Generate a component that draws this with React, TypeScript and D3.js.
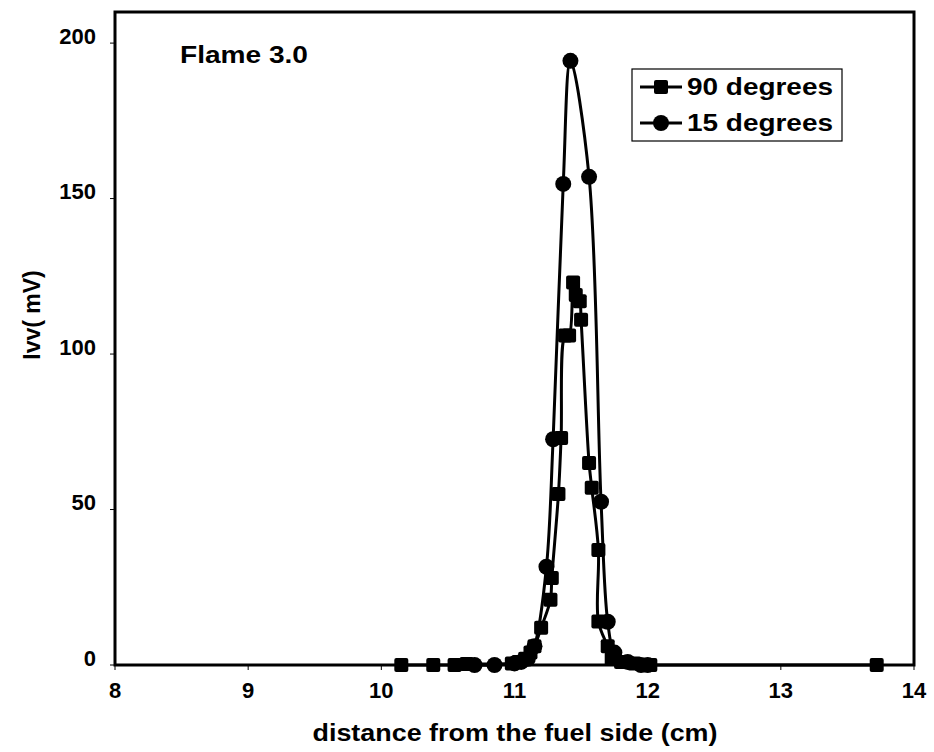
import React from "react";
import * as d3 from "d3";

const xTicks = [8, 9, 10, 11, 12, 13, 14];
const yTicks = [0, 50, 100, 150, 200];

// 90 degrees (squares)
const sqX = [10.15, 10.39, 10.55, 10.64, 10.98, 11.03, 11.08, 11.12, 11.15, 11.2, 11.27, 11.28, 11.33, 11.35, 11.38, 11.41, 11.44, 11.46, 11.49, 11.5, 11.56, 11.58, 11.63, 11.63, 11.7, 11.73, 11.8, 11.9, 11.97, 12.02, 13.72];
const sqY = [0, 0, 0, 0.3, 0.5, 1, 2, 4, 6, 12, 21, 28, 55, 73, 106, 106, 123, 119, 117, 111, 65, 57, 37, 14, 6, 2, 1, 0.5, 0, 0, 0];

// 15 degrees (circles)
const ciX = [10.7, 10.85, 11.0, 11.05, 11.1, 11.15, 11.24, 11.29, 11.366, 11.42, 11.56, 11.65, 11.7, 11.75, 11.85, 11.95, 12.0];
const ciY = [0, 0, 0.5, 1, 2, 6, 31.6, 72.6, 154.7, 194.3, 157, 52.5, 13.9, 4, 1, 0, 0];

const W = 934, H = 752;
const FONT = "'Liberation Sans', Arial, sans-serif";

export default function App() {
  const x = d3.scaleLinear().domain([8, 14]).range([115, 914]);
  const y = d3.scaleLinear().domain([0, 210]).range([665, 12]);
  const sq = sqX.map((v, i) => [v, sqY[i]] as [number, number]);
  const ci = ciX.map((v, i) => [v, ciY[i]] as [number, number]);
  const line = d3.line<[number, number]>().x(d => x(d[0])).y(d => y(d[1])).curve(d3.curveCatmullRom.alpha(0.5));

  return (
    <svg width={W} height={H} style={{ position: "absolute", left: 0, top: 0, background: "#fff" }} fontFamily={FONT}>
      <rect x={0} y={0} width={W} height={H} fill="#fff" />
      {/* frame */}
      <rect x={115} y={12} width={799} height={653} fill="none" stroke="#000" strokeWidth={3} />
      {yTicks.map(t => (
        <g key={"y" + t}>
          <line x1={110} x2={115} y1={y(t)} y2={y(t)} stroke="#000" strokeWidth={1} />
          <text x={96} y={y(t)} textAnchor="end" fontSize={22} fontWeight="bold" dominantBaseline="middle" transform={`translate(0,-5)`}>{t}</text>
        </g>
      ))}
      {xTicks.map(t => (
        <g key={"x" + t}>
          <line x1={x(t)} x2={x(t)} y1={665} y2={670} stroke="#000" strokeWidth={1} />
          <text x={x(t)} y={698} textAnchor="middle" fontSize={22} fontWeight="bold">{t}</text>
        </g>
      ))}
      <text x={515} y={741} textAnchor="middle" fontSize={23} fontWeight="bold" textLength={405} lengthAdjust="spacingAndGlyphs">distance from the fuel side (cm)</text>
      <text transform="translate(40,315) rotate(-90)" textAnchor="middle" fontSize={23} fontWeight="bold">Ivv( mV)</text>
      <text x={180} y={63} fontSize={23} fontWeight="bold" textLength={128} lengthAdjust="spacingAndGlyphs">Flame 3.0</text>

      {/* series */}
      <path d={line(sq) || ""} fill="none" stroke="#000" strokeWidth={3} />
      <path d={line(ci) || ""} fill="none" stroke="#000" strokeWidth={3} />
      {sq.map((d, i) => (
        <rect key={"s" + i} x={x(d[0]) - 7} y={y(d[1]) - 7} width={14} height={14} rx={2} fill="#000" />
      ))}
      {ci.map((d, i) => (
        <circle key={"c" + i} cx={x(d[0])} cy={y(d[1])} r={8} fill="#000" />
      ))}

      {/* legend */}
      <rect x={632} y={69} width={210} height={72} fill="#fff" stroke="#000" strokeWidth={1.2} />
      <line x1={640} x2={682} y1={87} y2={87} stroke="#000" strokeWidth={3} />
      <rect x={654} y={80} width={14} height={14} rx={2} fill="#000" />
      <text x={687} y={95} fontSize={23} fontWeight="bold" textLength={146} lengthAdjust="spacingAndGlyphs">90 degrees</text>
      <line x1={640} x2={682} y1={123} y2={123} stroke="#000" strokeWidth={3} />
      <circle cx={661} cy={123} r={8} fill="#000" />
      <text x={687} y={131} fontSize={23} fontWeight="bold" textLength={146} lengthAdjust="spacingAndGlyphs">15 degrees</text>
    </svg>
  );
}
